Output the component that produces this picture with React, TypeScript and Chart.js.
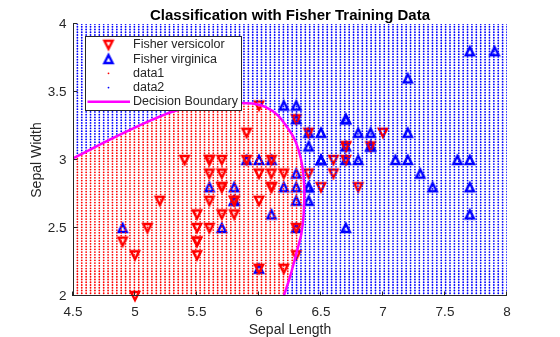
import { useEffect, useRef } from "react";
import { Chart, registerables } from "chart.js";

Chart.register(...registerables);

// Fisher iris data (sepal length / sepal width)
const versicolorSL = [7.0, 6.4, 6.9, 5.5, 6.5, 5.7, 6.3, 4.9, 6.6, 5.2, 5.0, 5.9, 6.0, 6.1, 5.6, 6.7, 5.6, 5.8, 6.2, 5.6, 5.9, 6.1, 6.3, 6.1, 6.4, 6.6, 6.8, 6.7, 6.0, 5.7, 5.5, 5.5, 5.8, 6.0, 5.4, 6.0, 6.7, 6.3, 5.6, 5.5, 5.5, 6.1, 5.8, 5.0, 5.6, 5.7, 5.7, 6.2, 5.1, 5.7];
const versicolorSW = [3.2, 3.2, 3.1, 2.3, 2.8, 2.8, 3.3, 2.4, 2.9, 2.7, 2.0, 3.0, 2.2, 2.9, 2.9, 3.1, 3.0, 2.7, 2.2, 2.5, 3.2, 2.8, 2.5, 2.8, 2.9, 3.0, 2.8, 3.0, 2.9, 2.6, 2.4, 2.4, 2.7, 2.7, 3.0, 3.4, 3.1, 2.3, 3.0, 2.5, 2.6, 3.0, 2.6, 2.3, 2.7, 3.0, 2.9, 2.9, 2.5, 2.8];
const virginicaSL = [6.3, 5.8, 7.1, 6.3, 6.5, 7.6, 4.9, 7.3, 6.7, 7.2, 6.5, 6.4, 6.8, 5.7, 5.8, 6.4, 6.5, 7.7, 7.7, 6.0, 6.9, 5.6, 7.7, 6.3, 6.7, 7.2, 6.2, 6.1, 6.4, 7.2, 7.4, 7.9, 6.4, 6.3, 6.1, 7.7, 6.3, 6.4, 6.0, 6.9, 6.7, 6.9, 5.8, 6.8, 6.7, 6.7, 6.3, 6.5, 6.2, 5.9];
const virginicaSW = [3.3, 2.7, 3.0, 2.9, 3.0, 3.0, 2.5, 2.9, 2.5, 3.6, 3.2, 2.7, 3.0, 2.5, 2.8, 3.2, 3.0, 3.8, 2.6, 2.2, 3.2, 2.8, 2.8, 2.7, 3.3, 3.2, 2.8, 3.0, 2.8, 3.0, 2.8, 3.8, 2.8, 2.8, 2.6, 3.0, 3.4, 3.1, 3.0, 3.1, 3.1, 3.1, 2.7, 3.2, 3.3, 3.0, 2.5, 3.0, 3.4, 3.0];

// Decision boundary
const boundaryX = [4.4, 4.5, 4.7, 4.9, 5.1, 5.3, 5.5, 5.7, 5.85, 5.95, 6.05, 6.15, 6.22, 6.28, 6.32, 6.35, 6.365, 6.36, 6.34, 6.3, 6.25, 6.2, 6.165];
const boundaryY = [2.964, 3.012, 3.105, 3.195, 3.28, 3.355, 3.395, 3.415, 3.42, 3.415, 3.39, 3.33, 3.25, 3.165, 3.07, 2.95, 2.8, 2.6, 2.45, 2.31, 2.14, 2.0, 1.9];

// Classification grid (100 x 100 over the axes range)
const gridXRange = [4.5, 8];
const gridYRange = [2, 4];
const gridCount = 100;

const xTicks = [4.5, 5, 5.5, 6, 6.5, 7, 7.5, 8];
const yTicks = [2, 2.5, 3, 3.5, 4];

const titleText = "Classification with Fisher Training Data";
const xLabel = "Sepal Length";
const yLabel = "Sepal Width";
const legendLabels = ["Fisher versicolor", "Fisher virginica", "data1", "data2", "Decision Boundary"];

const RED = "#FF0000";
const BLUE = "#0000FF";
const MAGENTA = "#FF00FF";
const AXIS = "#262626";
const FONT = "'Liberation Sans', Arial, Helvetica, sans-serif";

function makeTriangle(color: string, down: boolean): HTMLCanvasElement {
  const c = document.createElement("canvas");
  const s = 18;
  c.width = s;
  c.height = s;
  const ctx = c.getContext("2d")!;
  ctx.strokeStyle = color;
  ctx.lineWidth = 2.4;
  ctx.lineJoin = "miter";
  const cx = 9, cy = 9, hw = 4.1, hh = 4.0;
  ctx.beginPath();
  if (down) {
    ctx.moveTo(cx - hw, cy - hh);
    ctx.lineTo(cx + hw, cy - hh);
    ctx.lineTo(cx, cy + hh);
  } else {
    ctx.moveTo(cx - hw, cy + hh);
    ctx.lineTo(cx + hw, cy + hh);
    ctx.lineTo(cx, cy - hh);
  }
  ctx.closePath();
  ctx.stroke();
  return c;
}

function insidePolygon(px: number, py: number, xs: number[], ys: number[]) {
  let inside = false;
  for (let i = 0, j = xs.length - 1; i < xs.length; j = i++) {
    const xi = xs[i], yi = ys[i], xj = xs[j], yj = ys[j];
    if ((yi > py) !== (yj > py) && px < ((xj - xi) * (py - yi)) / (yj - yi) + xi) inside = !inside;
  }
  return inside;
}

export default function App() {
  const ref = useRef<HTMLCanvasElement>(null);

  useEffect(() => {
    document.body.style.margin = "0";
    const canvas = ref.current!;
    const triDown = makeTriangle(RED, true);
    const triUp = makeTriangle(BLUE, false);

    const polyX = [...boundaryX, boundaryX[0]];
    const polyY = [...boundaryY, boundaryY[boundaryY.length - 1]];

    const redGrid: { x: number; y: number }[] = [];
    const blueGrid: { x: number; y: number }[] = [];
    for (let i = 0; i < gridCount; i++) {
      const gx = gridXRange[0] + ((gridXRange[1] - gridXRange[0]) * i) / (gridCount - 1);
      for (let j = 0; j < gridCount; j++) {
        const gy = gridYRange[0] + ((gridYRange[1] - gridYRange[0]) * j) / (gridCount - 1);
        if (insidePolygon(gx, gy, polyX, polyY)) redGrid.push({ x: gx, y: gy });
        else blueGrid.push({ x: gx, y: gy });
      }
    }

    const vers = versicolorSL.map((x, i) => ({ x, y: versicolorSW[i] }));
    const virg = virginicaSL.map((x, i) => ({ x, y: virginicaSW[i] }));
    const boundary = boundaryX.map((x, i) => ({ x, y: boundaryY[i] }));

    const decor = {
      id: "decor",
      afterDraw(chart: any) {
        const ctx = chart.ctx as CanvasRenderingContext2D;
        const { left, right, top, bottom } = chart.chartArea;
        const xs = chart.scales.x;
        const ys = chart.scales.y;
        ctx.save();
        // axis lines
        ctx.strokeStyle = AXIS;
        ctx.lineWidth = 1;
        ctx.beginPath();
        ctx.moveTo(left + 0.5, top);
        ctx.lineTo(left + 0.5, bottom);
        ctx.moveTo(left, bottom - 0.5);
        ctx.lineTo(right, bottom - 0.5);
        // inward ticks
        xTicks.forEach((v) => {
          const p = Math.round(xs.getPixelForValue(v)) - 0.5;
          ctx.moveTo(p, bottom);
          ctx.lineTo(p, bottom - 4.5);
        });
        yTicks.forEach((v) => {
          const p = Math.round(ys.getPixelForValue(v)) - 0.5;
          ctx.moveTo(left, p);
          ctx.lineTo(left + 4.5, p);
        });
        ctx.stroke();

        // title
        ctx.fillStyle = "#000";
        ctx.font = `bold 15px ${FONT}`;
        ctx.textAlign = "center";
        ctx.textBaseline = "alphabetic";
        ctx.fillText(titleText, (left + right) / 2, 19.5);

        // axis labels
        ctx.fillStyle = AXIS;
        ctx.font = `14px ${FONT}`;
        ctx.fillText(xLabel, (left + right) / 2, 334);
        ctx.save();
        ctx.translate(40.5, (top + bottom) / 2);
        ctx.rotate(-Math.PI / 2);
        ctx.fillText(yLabel, 0, 0);
        ctx.restore();

        // legend
        const lx = 85.5, ly = 36.5, lw = 156, lh = 74;
        ctx.fillStyle = "#fff";
        ctx.fillRect(lx, ly, lw, lh);
        ctx.strokeStyle = AXIS;
        ctx.lineWidth = 1;
        ctx.strokeRect(lx, ly, lw, lh);
        const rowY = (i: number) => 44.8 + i * 14.25;
        const mx = 108.5;
        ctx.drawImage(triDown, mx - 9, rowY(0) - 9);
        ctx.drawImage(triUp, mx - 9, rowY(1) - 9);
        ctx.fillStyle = RED;
        ctx.beginPath();
        ctx.arc(mx, rowY(2), 0.9, 0, Math.PI * 2);
        ctx.fill();
        ctx.fillStyle = BLUE;
        ctx.beginPath();
        ctx.arc(mx, rowY(3), 0.9, 0, Math.PI * 2);
        ctx.fill();
        ctx.strokeStyle = MAGENTA;
        ctx.lineWidth = 2.5;
        ctx.beginPath();
        ctx.moveTo(87.5, rowY(4));
        ctx.lineTo(130, rowY(4));
        ctx.stroke();
        ctx.fillStyle = AXIS;
        ctx.font = `12.5px ${FONT}`;
        ctx.textAlign = "left";
        ctx.textBaseline = "middle";
        legendLabels.forEach((t, i) => ctx.fillText(t, 133, rowY(i)));
        ctx.restore();
      },
    };

    const tickFont = { family: FONT, size: 13.5 };

    const chart = new Chart(canvas, {
      type: "scatter",
      data: {
        datasets: [
          {
            label: legendLabels[4],
            data: boundary,
            showLine: true,
            borderColor: MAGENTA,
            borderWidth: 2.5,
            pointRadius: 0,
            pointHoverRadius: 0,
            tension: 0.3,
            fill: false,
            order: 0,
          } as any,
          {
            label: legendLabels[2],
            data: redGrid,
            pointRadius: 0.9,
            pointHoverRadius: 0.9,
            backgroundColor: RED,
            borderWidth: 0,
            order: 1,
          },
          {
            label: legendLabels[3],
            data: blueGrid,
            pointRadius: 0.9,
            pointHoverRadius: 0.9,
            backgroundColor: BLUE,
            borderWidth: 0,
            order: 1,
          },
          {
            label: legendLabels[0],
            data: vers,
            pointStyle: triDown,
            order: 2,
            clip: false,
          } as any,
          {
            label: legendLabels[1],
            data: virg,
            pointStyle: triUp,
            order: 2,
            clip: false,
          } as any,
        ],
      },
      options: {
        responsive: false,
        animation: false,
        events: [],
        layout: { padding: { top: 24, right: 53, left: 0, bottom: 0 } },
        plugins: {
          legend: { display: false },
          title: { display: false },
          tooltip: { enabled: false },
        },
        scales: {
          x: {
            type: "linear",
            min: 4.5,
            max: 8,
            grid: { display: false, drawTicks: false },
            border: { display: false },
            ticks: {
              padding: 8,
              color: AXIS,
              font: tickFont,
              autoSkip: false,
              maxRotation: 0,
              callback: (v: any) => String(v),
            },
            afterBuildTicks: (s: any) => {
              s.ticks = xTicks.map((v) => ({ value: v }));
            },
            afterFit: (s: any) => {
              s.height = 41;
            },
          },
          y: {
            type: "linear",
            min: 2,
            max: 4,
            grid: { display: false, drawTicks: false },
            border: { display: false },
            ticks: {
              padding: 6.5,
              color: AXIS,
              font: tickFont,
              autoSkip: false,
              callback: (v: any) => String(v),
            },
            afterBuildTicks: (s: any) => {
              s.ticks = yTicks.map((v) => ({ value: v }));
            },
            afterFit: (s: any) => {
              s.width = 73;
            },
          },
        },
      },
      plugins: [decor],
    });

    return () => chart.destroy();
  }, []);

  return (
    <div style={{ width: 560, height: 337 }}>
      <canvas ref={ref} width={560} height={337} style={{ display: "block", width: 560, height: 337 }} />
    </div>
  );
}
